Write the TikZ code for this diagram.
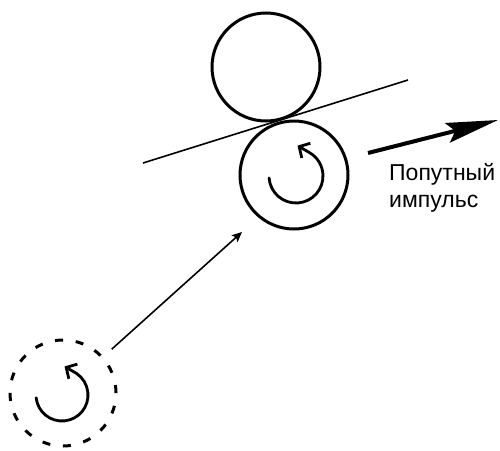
\documentclass[tikz,border=0pt]{standalone}
\usepackage{fontspec}
\setmainfont{Liberation Sans}
\usetikzlibrary{arrows.meta,calc}
\begin{document}
\begin{tikzpicture}[x=1pt,y=-1pt,
  roll/.style={circle,draw,line width=3pt,minimum size=108pt,inner sep=0pt},
  ghostroll/.style={circle,draw,line width=3pt,minimum size=106pt,inner sep=0pt,dash pattern=on 8pt off 12.8pt},
  spin/.style={line width=2.8pt,line cap=round,-{Straight Barb[length=8pt,width=17pt,line width=2.8pt]}},
  thin/.style={line width=1.6pt},
  lbl/.style={font=\fontsize{23}{27}\selectfont,align=left,anchor=north west,inner sep=0pt}]
\useasboundingbox (0,0) rectangle (500,450);
\node[roll] (upper) at (266,67) {};
\node[roll] (lower) at (294,175) {};
\node[ghostroll] (ghost) at (63,393) {};
\coordinate (tl) at (143,163);
\coordinate (tr) at (408,80);
\draw[thin] (tl) -- (tr);
% spin arrows
\coordinate (lc) at (296,176);
\coordinate (gc) at (62,395);
\draw[spin] ($(lc)+(176:27)$) arc[start angle=176,end angle=-60,radius=27] -- ++(-12,-7);
\draw[spin] ($(gc)+(174:26)$) arc[start angle=174,end angle=-56,radius=26] -- ++(-12,-7);
% connector
\coordinate (tip) at (242,232);
\draw[thin,shorten <=11pt,-{Stealth[length=10pt,width=9pt,inset=2pt]}] (ghost) -- (tip);
% big arrow
\coordinate (bs) at (368,153);
\coordinate (be) at (498,120);
\draw[line width=4pt,-{Stealth[length=52pt,width=20pt,inset=8pt]}] (bs) -- (be);
\node[lbl] (txt) at (389,163) {Попутный\\импульс};
\end{tikzpicture}
\end{document}
